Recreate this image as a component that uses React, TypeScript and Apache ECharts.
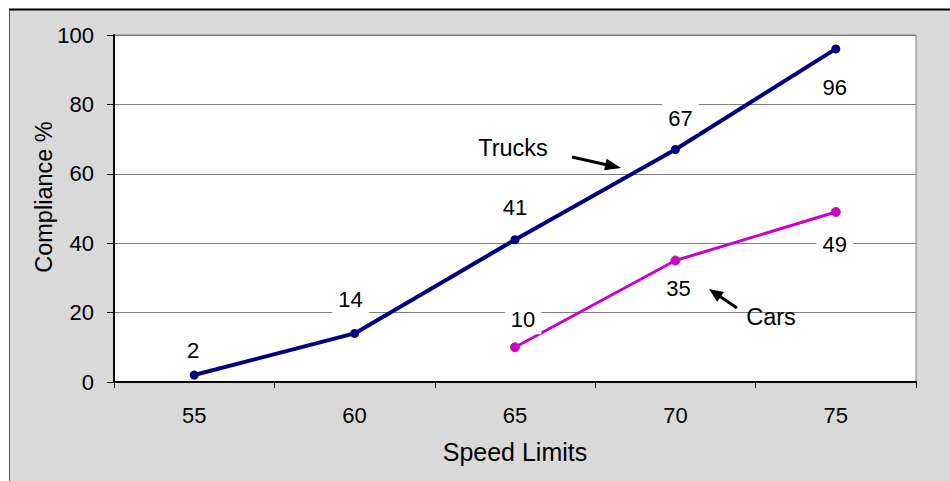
import React, { useEffect, useRef } from "react";
import * as echarts from "echarts";

// Speed limit categories (mph) and compliance percentages
const speedLimits = ["55", "60", "65", "70", "75"];
const trucksCompliance = [2, 14, 41, 67, 96];
const carsCompliance: (number | null)[] = [null, null, 10, 35, 49];

// Where each value label sits relative to its point, [dx, dy] in px
const truckLabelOffsets = [[-1, -25], [-4, -34], [0, -32], [5, -31], [-1, 39]];
const carLabelOffsets = [null, null, [8, -28], [3, 28], [-1, 33]];

const FONT = "'Liberation Sans', Arial, Helvetica, sans-serif";

const labelBase = {
  show: true,
  position: "inside",
  color: "#000",
  fontSize: 22,
  fontFamily: FONT,
  backgroundColor: "#fff",
  padding: [4, 6],
};

// Shaft plus triangular head, from tail to tip
function arrow(tail: number[], tip: number[], headLen: number, headHalf: number) {
  const dx = tip[0] - tail[0];
  const dy = tip[1] - tail[1];
  const len = Math.hypot(dx, dy);
  const ux = dx / len;
  const uy = dy / len;
  const bx = tip[0] - ux * headLen;
  const by = tip[1] - uy * headLen;
  const px = -uy * headHalf;
  const py = ux * headHalf;
  return [
    {
      type: "line",
      z: 100,
      shape: { x1: tail[0], y1: tail[1], x2: bx + ux, y2: by + uy },
      style: { stroke: "#000", lineWidth: 3 },
    },
    {
      type: "polygon",
      z: 100,
      shape: { points: [tip, [bx + px, by + py], [bx - px, by - py]] },
      style: { fill: "#000" },
    },
  ];
}

export default function App() {
  const ref = useRef<HTMLDivElement>(null);

  useEffect(() => {
    if (!ref.current) return;
    const chart = echarts.init(ref.current, undefined, { renderer: "svg" });

    chart.setOption({
      animation: false,
      backgroundColor: "#fff",
      textStyle: { fontFamily: FONT },
      grid: {
        left: 114,
        top: 35,
        right: 34,
        bottom: 99,
        show: true,
        backgroundColor: "#fff",
        borderColor: "#808080",
        borderWidth: 1,
      },
      xAxis: {
        type: "category",
        data: speedLimits,
        boundaryGap: true,
        name: "Speed Limits",
        nameLocation: "middle",
        nameGap: 57,
        nameTextStyle: { fontSize: 25, color: "#000", fontFamily: FONT },
        axisLine: { show: true, lineStyle: { color: "#000", width: 2 } },
        axisTick: { show: true, length: 6, lineStyle: { color: "#000", width: 1 } },
        axisLabel: { fontSize: 22, color: "#000", margin: 22, fontFamily: FONT },
        splitLine: { show: false },
      },
      yAxis: {
        type: "value",
        min: 0,
        max: 100,
        interval: 20,
        axisLine: { show: true, lineStyle: { color: "#000", width: 2 } },
        axisTick: { show: true, length: 7, lineStyle: { color: "#000", width: 1 } },
        axisLabel: { fontSize: 22, color: "#000", margin: 20, fontFamily: FONT },
        splitLine: { show: true, lineStyle: { color: "#808080", width: 1 } },
      },
      graphic: [
        // grey chart area with its frame
        {
          type: "rect",
          z: -10,
          silent: true,
          shape: { x: 9.5, y: 9.5, width: 980, height: 500 },
          style: { fill: "#d9d9d9", stroke: "#555", lineWidth: 1 },
        },
        {
          type: "line",
          z: -9,
          shape: { x1: 9, y1: 9.5, x2: 950, y2: 9.5 },
          style: { stroke: "#000", lineWidth: 2 },
        },
        {
          type: "text",
          z: 100,
          x: 44,
          y: 197,
          rotation: Math.PI / 2,
          style: {
            text: "Compliance %",
            fontSize: 23.5,
            fontFamily: FONT,
            fill: "#000",
            align: "center",
            verticalAlign: "middle",
          },
        },
        {
          type: "text",
          z: 100,
          x: 513,
          y: 148,
          style: {
            text: "Trucks",
            fontSize: 23.5,
            fontFamily: FONT,
            fill: "#000",
            align: "center",
            verticalAlign: "middle",
          },
        },
        ...arrow([572, 157], [621, 168], 16, 6),
        {
          type: "text",
          z: 100,
          x: 771,
          y: 317,
          style: {
            text: "Cars",
            fontSize: 23.5,
            fontFamily: FONT,
            fill: "#000",
            align: "center",
            verticalAlign: "middle",
          },
        },
        ...arrow([737, 308], [709, 289], 14, 6),
      ],
      series: [
        {
          name: "Trucks",
          type: "line",
          data: trucksCompliance.map((v, i) => ({
            value: v,
            label: { ...labelBase, offset: truckLabelOffsets[i] },
          })),
          symbol: "circle",
          symbolSize: 9,
          lineStyle: { color: "#000080", width: 4 },
          itemStyle: { color: "#000080" },
          z: 3,
        },
        {
          name: "Cars",
          type: "line",
          data: carsCompliance.map((v, i) =>
            v === null
              ? null
              : { value: v, label: { ...labelBase, offset: carLabelOffsets[i] } }
          ),
          symbol: "circle",
          symbolSize: 9,
          lineStyle: { color: "#cc00cc", width: 3 },
          itemStyle: { color: "#cc00cc", borderColor: "#b0306a", borderWidth: 1 },
          z: 2,
        },
      ],
    });

    return () => chart.dispose();
  }, []);

  return (
    <div
      ref={ref}
      style={{ position: "absolute", left: 0, top: 0, width: 950, height: 481 }}
    />
  );
}
